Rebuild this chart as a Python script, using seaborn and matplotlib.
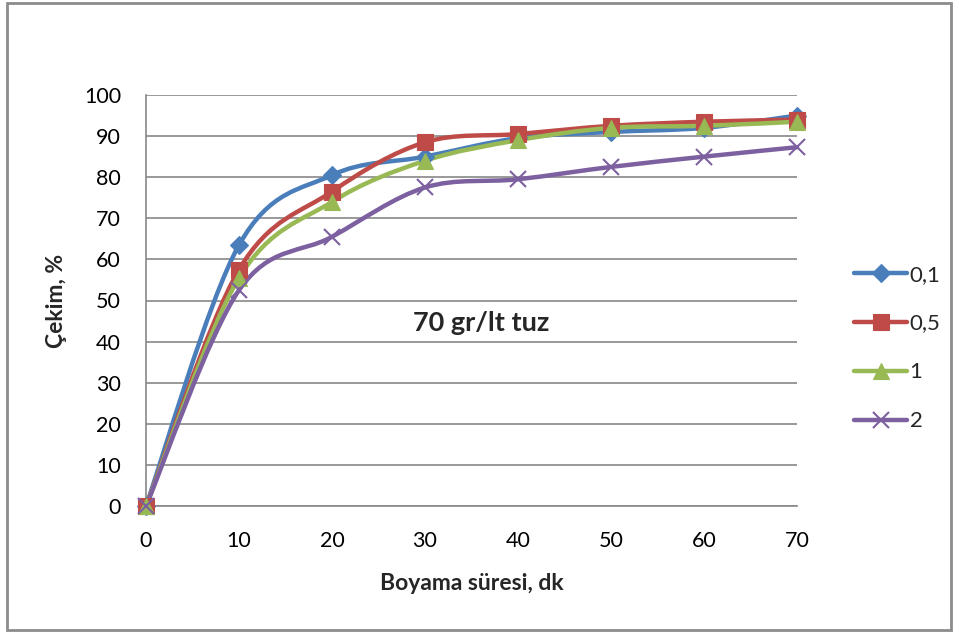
import numpy as np
import pandas as pd
import matplotlib
matplotlib.use("Agg")
import matplotlib.pyplot as plt
import seaborn as sns
from matplotlib.path import Path
from matplotlib.patches import PathPatch, Rectangle
from matplotlib.lines import Line2D

# data
sure = [0, 10, 20, 30, 40, 50, 60, 70]
seri_01 = [0, 63.5, 80.5, 85.0, 89.5, 91.0, 92.0, 95.0]
seri_05 = [0, 57.5, 76.5, 88.5, 90.5, 92.5, 93.5, 94.0]
seri_1 = [0, 55.5, 74.0, 84.0, 89.0, 92.0, 92.5, 93.5]
seri_2 = [0, 52.5, 65.5, 77.5, 79.5, 82.5, 85.0, 87.3]
etiketler = ["0,1", "0,5", "1", "2"]
renkler = ["#4A7EBB", "#BE4B48", "#98B954", "#7D60A0"]
isaretler = ["D", "s", "^", "x"]
boyutlar = [9, 11, 12, 12]

sns.set_style("white")
plt.rcParams['font.family'] = ['Lato', 'DejaVu Sans']

df = pd.DataFrame({"sure": sure, "0,1": seri_01, "0,5": seri_05, "1": seri_1, "2": seri_2})


def smooth_path(x, y):
    # Excel style smoothed line: cubic bezier through the points
    pts = np.column_stack([x, y]).astype(float)
    n = len(pts)
    verts = [pts[0]]
    codes = [Path.MOVETO]
    for i in range(n - 1):
        p0 = pts[max(i - 1, 0)]
        p1 = pts[i]
        p2 = pts[i + 1]
        p3 = pts[min(i + 2, n - 1)]
        verts += [p1 + (p2 - p0) / 6, p2 - (p3 - p1) / 6, p2]
        codes += [Path.CURVE4] * 3
    return Path(verts, codes)


fig = plt.figure(figsize=(9.59, 6.33), dpi=100)
ax = fig.add_axes([146 / 959, 1 - 506 / 633, (797 - 146) / 959, (506 - 95) / 633])

gri = "#878787"
for lab, col, mk, ms in zip(etiketler, renkler, isaretler, boyutlar):
    ax.add_patch(PathPatch(smooth_path(df["sure"], df[lab]), fill=False, edgecolor=col,
                           lw=3.2, capstyle='round', joinstyle='round', zorder=3, clip_on=False))
    sns.lineplot(x=df["sure"], y=df[lab], ax=ax, marker=mk, markersize=ms, linestyle='',
                 color=col, markeredgecolor=col, markeredgewidth=1.5 if mk == 'x' else 0.8,
                 zorder=4, legend=False, clip_on=False)

ax.set_xlim(0, 70)
ax.set_ylim(0, 100)
ax.set_xticks(range(0, 71, 10))
ax.set_yticks(range(0, 101, 10))
ax.yaxis.grid(True, color=gri, lw=1.2)
ax.xaxis.grid(False)
for s in ["top", "right"]:
    ax.spines[s].set_visible(False)
for s in ["left", "bottom"]:
    ax.spines[s].set_color(gri)
    ax.spines[s].set_linewidth(1.2)
ax.tick_params(axis='both', direction='out', length=6, width=1.2, color=gri,
               labelsize=15.5, labelcolor='black')
ax.tick_params(axis='x', pad=12)
ax.tick_params(axis='y', pad=12)
ax.set_xlabel("Boyama süresi, dk", fontsize=16.5, fontweight='bold', labelpad=16)
ax.set_ylabel("Çekim, %", fontsize=16.5, fontweight='bold', labelpad=12)
ax.text(36, 44.5, "70 gr/lt tuz", fontsize=19.5, fontweight='bold', ha='center', va='center')

handles = [Line2D([], [], color=c, lw=3.2, marker=m, markersize=ms, markeredgecolor=c,
                  markeredgewidth=1.5 if m == 'x' else 0.8, solid_capstyle='round')
           for c, m, ms in zip(renkler, isaretler, boyutlar)]
fig.legend(handles, etiketler, loc='center left', bbox_to_anchor=(834 / 959, 1 - 348 / 633),
           frameon=False, fontsize=16, handlelength=2.4, handletextpad=0.1, labelspacing=1.3)

fig.add_artist(Rectangle((7 / 959, 3 / 633), 944 / 959, 627 / 633, transform=fig.transFigure,
                         fill=False, edgecolor="#8c8c8c", lw=2))

fig.savefig("out.png", dpi=100)
